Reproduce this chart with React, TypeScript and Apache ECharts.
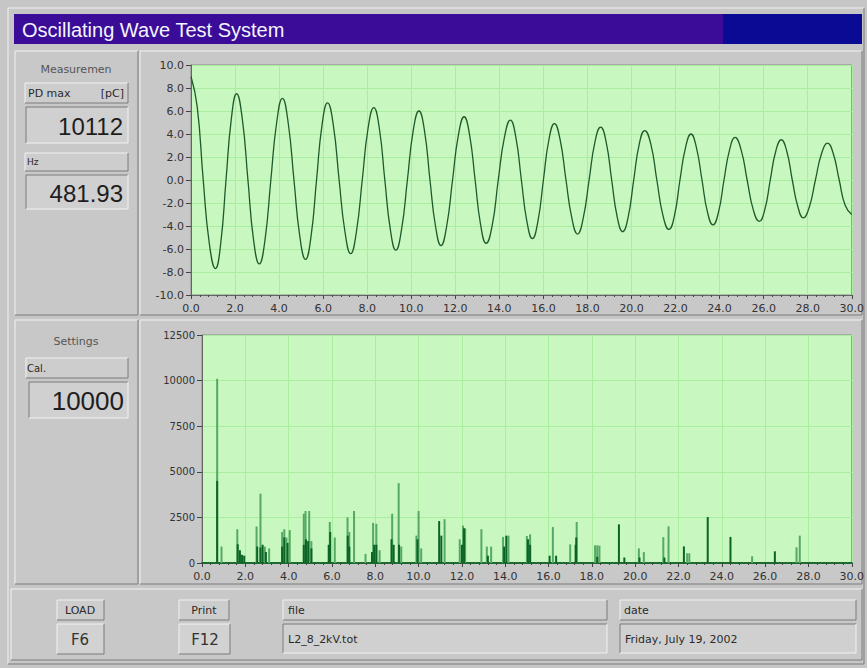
import React, { useEffect, useRef } from "react";
import * as echarts from "echarts";

// Oscillating wave (time in ms, value)
const wave: number[][] = [
  [0, 9.0], [0.28, 6.4], [0.555, 0], [0.83, -5.5], [1.11, -7.7],
  [1.35, -5.5], [1.59, 0], [1.83, 5.3], [2.07, 7.5],
  [2.33, 5.3], [2.585, 0], [2.84, -5.2], [3.1, -7.3],
  [3.36, -5.2], [3.625, 0], [3.89, 5.0], [4.15, 7.1],
  [4.41, 5.0], [4.675, 0], [4.94, -4.9], [5.2, -6.9],
  [5.45, -4.9], [5.7, 0], [5.95, 4.8], [6.2, 6.7],
  [6.46, 4.8], [6.725, 0], [6.99, -4.5], [7.25, -6.4],
  [7.51, -4.5], [7.775, 0], [8.04, 4.5], [8.3, 6.3],
  [8.55, 4.5], [8.8, 0], [9.05, -4.3], [9.3, -6.1],
  [9.56, -4.3], [9.825, 0], [10.09, 4.3], [10.35, 6.0],
  [10.6, 4.3], [10.85, 0], [11.1, -4.0], [11.35, -5.7],
  [11.61, -4.0], [11.875, 0], [12.14, 3.9], [12.4, 5.5],
  [12.65, 3.9], [12.9, 0], [13.15, -3.9], [13.4, -5.5],
  [13.68, -3.9], [13.95, 0], [14.23, 3.7], [14.5, 5.2],
  [14.75, 3.7], [15.0, 0], [15.25, -3.6], [15.5, -5.1],
  [15.75, -3.6], [16.0, 0], [16.25, 3.5], [16.5, 4.9],
  [16.76, 3.5], [17.025, 0], [17.29, -3.3], [17.55, -4.7],
  [17.81, -3.3], [18.075, 0], [18.34, 3.3], [18.6, 4.6],
  [18.85, 3.3], [19.1, 0], [19.35, -3.2], [19.6, -4.5],
  [19.85, -3.2], [20.1, 0], [20.35, 3.1], [20.6, 4.3],
  [20.88, 3.1], [21.15, 0], [21.43, -3.1], [21.7, -4.3],
  [21.95, -3.1], [22.2, 0], [22.45, 2.8], [22.7, 4.0],
  [22.95, 2.8], [23.2, 0], [23.45, -2.8], [23.7, -3.9],
  [23.95, -2.8], [24.2, 0], [24.45, 2.6], [24.7, 3.7],
  [24.98, 2.6], [25.25, 0], [25.53, -2.6], [25.8, -3.6],
  [26.05, -2.6], [26.3, 0], [26.55, 2.5], [26.8, 3.5],
  [27.05, 2.5], [27.3, 0], [27.55, -2.3], [27.8, -3.3],
  [28.08, -2.3], [28.35, 0], [28.63, 2.3], [28.9, 3.2],
  [29.16, 2.3], [29.43, 0], [29.7, -2.2], [30.0, -3.0],
];

// PD pulses (light green)
const lightTime = [0.7, 0.9, 1.63, 1.75, 2.52, 2.7, 2.9, 3.1, 3.7, 3.8, 3.9, 4.05, 4.7, 4.78, 4.95, 5.05, 5.9, 6.13, 6.72, 6.8, 7.02, 7.55, 7.9, 8.05, 8.2, 8.78, 9.08, 9.2, 9.9, 10.0, 10.12, 11.2, 11.9, 12.05, 12.15, 12.9, 13.15, 13.35, 13.9, 14.15, 15.0, 15.15, 16.2, 17.0, 17.3, 18.15, 18.25, 18.35, 20.17, 20.4, 21.3, 21.54, 22.4, 22.5, 25.4, 27.45, 27.6];
const lightCharge = [10100, 900, 1850, 500, 2000, 3800, 900, 800, 1700, 1850, 1400, 1800, 2700, 2850, 2850, 1200, 2250, 1400, 2500, 1700, 2850, 500, 2200, 2150, 700, 2700, 4380, 900, 1500, 2850, 800, 2400, 1300, 2050, 1900, 1850, 900, 900, 1430, 1500, 1480, 1570, 1970, 1020, 2250, 970, 970, 950, 800, 600, 1420, 2010, 530, 530, 370, 860, 1500];

// PD pulses (dark green)
const darkTime = [0.7, 1.65, 1.75, 1.85, 1.95, 2.55, 2.7, 2.8, 2.95, 3.7, 3.8, 3.95, 4.7, 4.8, 4.9, 5.05, 5.85, 5.92, 6.73, 6.8, 7.85, 7.95, 8.05, 8.75, 8.85, 9.1, 9.95, 10.95, 11.05, 12.0, 12.1, 13.2, 13.95, 14.05, 15.05, 15.15, 16.05, 16.35, 17.25, 17.28, 18.25, 19.25, 19.5, 20.2, 21.35, 22.25, 23.35, 24.4, 26.45];
const darkCharge = [4500, 1030, 700, 450, 400, 900, 850, 1000, 600, 900, 1400, 1100, 1000, 1300, 1200, 800, 1000, 1700, 1500, 900, 600, 1000, 1000, 1300, 1000, 1000, 1300, 2300, 1500, 1000, 1900, 400, 900, 1500, 1300, 1000, 400, 400, 1000, 1400, 340, 2120, 300, 300, 300, 910, 2520, 1430, 640];

const title = "Oscillating Wave Test System";
const pdMax = "10112";
const freqHz = "481.93";
const calValue = "10000";
const fileName = "L2_8_2kV.tot";
const dateText = "Friday, July 19, 2002";

const UI = '"DejaVu Sans", sans-serif';
const LIGHT = "#f2f2f2";
const DARK = "#7a7a7a";
const FACE = "#c8c8c8";

function bevel(x: number, y: number, w: number, h: number, raised: boolean, fill: string) {
  return [
    { type: "rect", z: -6, shape: { x, y, width: w, height: h }, style: { fill } },
    { type: "polyline", z: -5, shape: { points: [[x, y + h], [x, y], [x + w, y]] }, style: { stroke: raised ? LIGHT : DARK, lineWidth: 1, fill: "none" } },
    { type: "polyline", z: -5, shape: { points: [[x, y + h], [x + w, y + h], [x + w, y]] }, style: { stroke: raised ? DARK : LIGHT, lineWidth: 1, fill: "none" } },
  ];
}

function label(text: string, x: number, y: number, size: number, align: string, color = "#2a2a2a", family = UI) {
  return {
    type: "text",
    z: -3,
    x,
    y,
    style: { text, fill: color, font: `${size}px ${family}`, textAlign: align, textVerticalAlign: "middle", align, verticalAlign: "middle" },
  };
}

export default function App() {
  const ref = useRef<HTMLDivElement>(null);
  useEffect(() => {
    if (!ref.current) return;
    const chart = echarts.init(ref.current, undefined, { renderer: "svg" });
    const graphics: any[] = [
      ...bevel(8, 8, 856, 656, true, "#c6c6c6"),
      { type: "rect", z: -5, shape: { x: 14, y: 14, width: 709, height: 30 }, style: { fill: "#3a0c97" } },
      { type: "rect", z: -5, shape: { x: 723, y: 14, width: 139, height: 30 }, style: { fill: "#0a0a94" } },
      label(title, 22, 30, 20, "left", "#f4f4ff", '"Liberation Sans", Arial, sans-serif'),
      ...bevel(15, 51, 123, 264, true, FACE),
      ...bevel(140, 51, 722, 264, true, FACE),
      ...bevel(15, 320, 123, 264, true, FACE),
      ...bevel(140, 320, 722, 264, true, FACE),
      ...bevel(11, 589, 851, 71, true, FACE),
      label("Measuremen", 76, 69, 11, "center", "#555"),
      ...bevel(25, 83, 103, 20, true, "#cdcdcd"),
      label("PD max", 28, 93, 11, "left"),
      label("[pC]", 124, 93, 11, "right"),
      ...bevel(26, 107, 102, 36, false, "#d0d0d0"),
      label(pdMax, 123, 126, 24, "right", "#1e1e1e", '"Liberation Sans", Arial, sans-serif'),
      ...bevel(25, 153, 103, 18, true, "#cdcdcd"),
      label("Hz", 27, 162, 9, "left"),
      ...bevel(26, 175, 102, 34, false, "#d0d0d0"),
      label(freqHz, 123, 193, 24, "right", "#1e1e1e", '"Liberation Sans", Arial, sans-serif'),
      label("Settings", 76, 341, 11, "center", "#555"),
      ...bevel(26, 358, 102, 20, true, "#cdcdcd"),
      label("Cal.", 27, 368, 10, "left"),
      ...bevel(29, 382, 99, 36, false, "#d0d0d0"),
      label(calValue, 124, 401, 26, "right", "#1e1e1e", '"Liberation Sans", Arial, sans-serif'),
      ...bevel(57, 600, 47, 20, true, "#cdcdcd"),
      label("LOAD", 80, 610, 11, "center"),
      ...bevel(57, 624, 47, 30, true, "#d2d2d2"),
      label("F6", 80, 640, 15, "center", "#333"),
      ...bevel(179, 600, 50, 20, true, "#cdcdcd"),
      label("Print", 204, 610, 11, "center"),
      ...bevel(179, 624, 51, 30, true, "#d2d2d2"),
      label("F12", 205, 640, 15, "center", "#333"),
      ...bevel(283, 600, 324, 20, true, "#cdcdcd"),
      label("file", 288, 610, 11, "left"),
      ...bevel(283, 624, 324, 29, false, "#d0d0d0"),
      label(fileName, 288, 639, 11, "left"),
      ...bevel(620, 600, 236, 20, true, "#cdcdcd"),
      label("date", 624, 610, 11, "left"),
      ...bevel(620, 624, 236, 29, false, "#d0d0d0"),
      label(dateText, 625, 639, 11, "left"),
    ];

    const gridLine = { show: true, lineStyle: { color: "#a9ed9e", width: 1 } };
    const axisText = (size: number) => ({ color: "#333", fontSize: size, fontFamily: UI });

    chart.setOption({
      animation: false,
      backgroundColor: "#c6c6c6",
      graphic: { elements: graphics },
      grid: [
        { left: 191, top: 65, width: 666, height: 230, show: true, backgroundColor: "#c8f8bf", borderColor: "#8a8a8a", borderWidth: 1 },
        { left: 202, top: 335, width: 656, height: 228, show: true, backgroundColor: "#c8f8bf", borderColor: "#8a8a8a", borderWidth: 1 },
      ],
      xAxis: [
        {
          gridIndex: 0, type: "value", min: 0, max: 30, interval: 2,
          axisLine: { show: true, onZero: false, lineStyle: { color: "#666" } },
          axisTick: { show: true, length: 4, lineStyle: { color: "#444" } },
          minorTick: { show: true, splitNumber: 5, length: 2, lineStyle: { color: "#444" } },
          splitLine: gridLine,
          axisLabel: { ...axisText(11), margin: 8, formatter: (v: number) => v.toFixed(1), showMinLabel: true, showMaxLabel: true },
        },
        {
          gridIndex: 1, type: "value", min: 0, max: 30, interval: 2,
          axisLine: { show: true, onZero: false, lineStyle: { color: "#1b6a30", width: 2 } },
          axisTick: { show: true, length: 4, lineStyle: { color: "#444" } },
          minorTick: { show: true, splitNumber: 5, length: 2, lineStyle: { color: "#444" } },
          splitLine: gridLine,
          axisLabel: { ...axisText(11), margin: 8, formatter: (v: number) => v.toFixed(1), showMinLabel: true, showMaxLabel: true },
        },
      ],
      yAxis: [
        {
          gridIndex: 0, type: "value", min: -10, max: 10, interval: 2,
          axisLine: { show: true, lineStyle: { color: "#666" } },
          axisTick: { show: true, length: 5, lineStyle: { color: "#444" } },
          splitLine: gridLine,
          axisLabel: { ...axisText(11), margin: 7, formatter: (v: number) => v.toFixed(1) },
        },
        {
          gridIndex: 1, type: "value", min: 0, max: 12500, interval: 2500,
          axisLine: { show: true, lineStyle: { color: "#666" } },
          axisTick: { show: true, length: 5, lineStyle: { color: "#444" } },
          splitLine: gridLine,
          axisLabel: { ...axisText(10), margin: 7, formatter: (v: number) => String(v) },
        },
      ],
      series: [
        {
          type: "line", xAxisIndex: 0, yAxisIndex: 0, data: wave, smooth: 0.5,
          showSymbol: false, lineStyle: { color: "#1f5a2b", width: 1.3 },
        },
        {
          type: "bar", xAxisIndex: 1, yAxisIndex: 1, barWidth: 2, barGap: "-100%",
          data: lightTime.map((t, i) => [t, lightCharge[i]]),
          itemStyle: { color: "#56a866" },
        },
        {
          type: "bar", xAxisIndex: 1, yAxisIndex: 1, barWidth: 2, barGap: "-100%",
          data: darkTime.map((t, i) => [t, darkCharge[i]]),
          itemStyle: { color: "#0c6326" },
        },
      ],
    });
    return () => chart.dispose();
  }, []);

  return <div ref={ref} style={{ position: "fixed", left: 0, top: 0, width: 867, height: 668 }} />;
}
